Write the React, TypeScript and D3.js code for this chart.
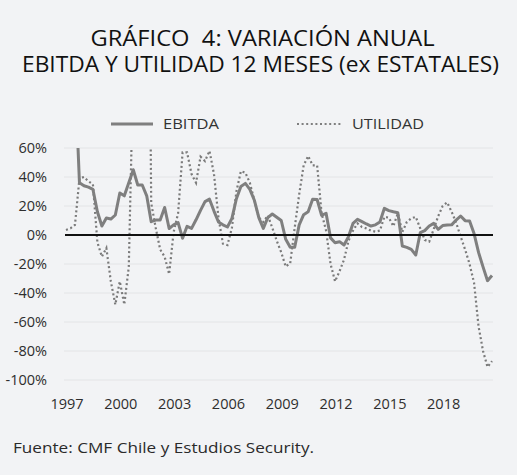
import React from "react";
import * as d3 from "d3";

// Quarterly data, 1997Q1 – 2020Q4 (year-on-year % change)
const startYear = 1997;
const nQuarters = 96;
const quarters: string[] = Array.from({ length: nQuarters }, (_, i) => `${startYear + Math.floor(i / 4)}Q${(i % 4) + 1}`);

const ebitda: number[] = [
  95, 100, 111, 36, 34, 33, 31.5, 16, 6.2, 11.7,
  11, 13.8, 29, 27, 36, 45, 34.5, 34.5, 27, 9.2,
  10.3, 10.3, 19, 4.5, 7, 8.5, -2.3, 6, 4.6, 10.5,
  17, 23, 24.7, 16.5, 9, 7, 5.5, 11.5, 25, 33.5,
  35.6, 31.5, 24, 12, 4.6, 12, 14.5, 12.2, 10, -3,
  -8.5, -8.5, 7, 14, 16, 24.7, 24.5, 13.5, 15, -2,
  -5.3, -4.6, -6.9, -1.1, 8, 10.8, 9.2, 7.6, 6.2, 7,
  9, 18.4, 16.8, 16, 15.4, -7.6, -8.5, -9.9, -13.8, 1.6,
  3, 6.2, 8, 3.9, 6.5, 6.9, 7, 10.3, 13.1, 9.9,
  9.7, 1, -12, -22, -31.5, -28,
];

const utilidad: number[] = [
  3.4, 4.6, 7, 39, 40, 37, 35, -5, -15, -9,
  -32, -48, -32, -48, -22, 115, 150, 250, 380, 22,
  5, -10, -15, -27, 2, 15, 57, 57, 42, 36,
  54, 51, 58, 42, 12, -6, -7, 5, 30, 44,
  43, 36, 24, 12, 9, 13.5, 5, -4, -12, -21.8,
  -19.5, 5, 28, 48, 54.5, 48, 48, 15, 3, -20,
  -32, -25, -17, -4, 3, 8, 5.5, 4.5, 3, 2.3,
  3, 12.5, 12, 6, 15, 2, 9, 11.5, 12.5, 4.5,
  -3.4, -4.6, 4, 13, 20, 22.5, 16, 8.5, -1, -10,
  -20, -33, -63, -80, -91, -87,
];

const xTickLabels: string[] = ["1997", "2000", "2003", "2006", "2009", "2012", "2015", "2018"];
const yTicks: number[] = [60, 40, 20, 0, -20, -40, -60, -80, -100];
const seriesNames: string[] = ["EBITDA", "UTILIDAD"];

const W = 517;
const H = 475;
const FONT = "'Open Sans', 'Noto Sans', sans-serif";

export default function App() {
  const x = d3.scaleLinear().domain([0, nQuarters - 1]).range([66, 492]);
  const y = d3.scaleLinear().domain([-100, 60]).range([380, 148]);
  const line = d3
    .line<number>()
    .x((_, i) => x(i))
    .y((d) => y(d));

  const plotLeft = 64;
  const plotRight = 493;
  const dots = "2 2.6";

  return (
    <svg
      width={W}
      height={H}
      style={{ position: "absolute", left: 0, top: 0, background: "#f2f3f5" }}
    >
      <rect x={0} y={0} width={W} height={H} fill="#f2f3f5" />
      <defs>
        <clipPath id="plotClip">
          <rect x={plotLeft - 2} y={y(60)} width={plotRight - plotLeft + 6} height={y(-100) - y(60) + 4} />
        </clipPath>
      </defs>

      {/* Title */}
      <text
        x={262.5}
        y={46}
        textAnchor="middle"
        fontFamily={FONT}
        fontWeight={500}
        fontSize={21}
        fill="#111"
        style={{ whiteSpace: "pre" }}
        textLength={344}
        lengthAdjust="spacingAndGlyphs"
      >
        {"GRÁFICO  4: VARIACIÓN ANUAL"}
      </text>
      <text
        x={260.5}
        y={72}
        textAnchor="middle"
        fontFamily={FONT}
        fontWeight={500}
        fontSize={21}
        fill="#111"
        textLength={477}
        lengthAdjust="spacingAndGlyphs"
      >
        EBITDA Y UTILIDAD 12 MESES (ex ESTATALES)
      </text>

      {/* Legend */}
      <line x1={111} x2={153} y1={124} y2={124} stroke="#7f7f7f" strokeWidth={3} />
      <text x={163} y={129} fontFamily={FONT} fontSize={15} fill="#333" textLength={56} lengthAdjust="spacingAndGlyphs">
        {seriesNames[0]}
      </text>
      <line x1={297} x2={341} y1={124} y2={124} stroke="#7f7f7f" strokeWidth={2} strokeDasharray={dots} />
      <text x={352} y={129} fontFamily={FONT} fontSize={15} fill="#333" textLength={72} lengthAdjust="spacingAndGlyphs">
        {seriesNames[1]}
      </text>

      {/* Gridlines and y labels */}
      {yTicks.map((t) => (
        <g key={t}>
          {t !== 0 && (
            <line x1={plotLeft} x2={plotRight} y1={y(t)} y2={y(t)} stroke="#e3e4e6" strokeWidth={1} />
          )}
          <text
            x={47}
            y={y(t)}
            dy="0.35em"
            textAnchor="end"
            fontFamily={FONT}
            fontSize={14.5}
            fill="#2e2e2e"
          >
            {`${t}%`}
          </text>
        </g>
      ))}

      {/* X labels */}
      {xTickLabels.map((lab, k) => (
        <text
          key={lab}
          x={x(k * 12) + 1}
          y={409}
          textAnchor="middle"
          fontFamily={FONT}
          fontSize={14.5}
          fill="#2e2e2e"
        >
          {lab}
        </text>
      ))}

      {/* Series */}
      <g clipPath="url(#plotClip)">
        <path d={line(utilidad) || ""} fill="none" stroke="#7a7a7a" strokeWidth={2.2} strokeDasharray={dots} />
        <path d={line(ebitda) || ""} fill="none" stroke="#7f7f7f" strokeWidth={3} strokeLinejoin="round" />
      </g>

      {/* Zero line */}
      <line x1={65} x2={plotRight} y1={y(0)} y2={y(0)} stroke="#111" strokeWidth={2} />

      {/* Source */}
      <text x={13} y={453} fontFamily={FONT} fontSize={15} fill="#2a2a2a" textLength={301} lengthAdjust="spacingAndGlyphs">
        Fuente: CMF Chile y Estudios Security.
      </text>
      <desc>{quarters.join(",")}</desc>
    </svg>
  );
}
